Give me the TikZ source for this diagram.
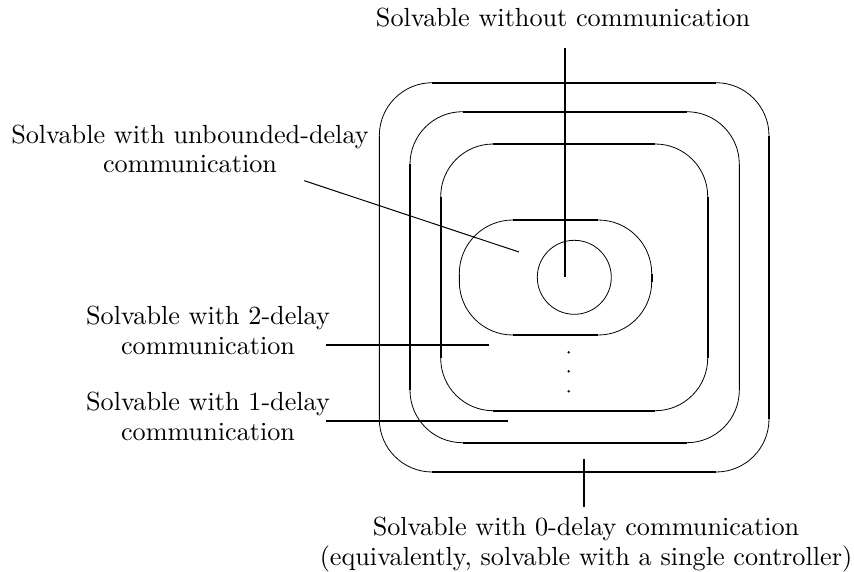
\documentclass[tikz,border=0pt]{standalone}
\usepackage{fontspec}
\setmainfont{lmroman10-regular.otf}
\begin{document}
\begin{tikzpicture}[x=1pt,y=-1pt,
  straight/.style={line width=1.6pt},
  curve/.style={line width=0.8pt},
  leader/.style={line width=1.6pt},
  slant/.style={line width=1pt},
  label/.style={font=\fontsize{26.2}{29.5}\selectfont, inner sep=0pt, align=center, anchor=base},
]
% rounded region: thin corner arcs, heavier straight sides
\newcommand\regionbox[5]{%
  \draw[curve, rounded corners=#5pt] (#1,#2) rectangle (#3,#4);
  \draw[straight] ({#1+#5},#2) -- ({#3-#5},#2);
  \draw[straight] ({#1+#5},#4) -- ({#3-#5},#4);
  \draw[straight] (#1,{#2+#5}) -- (#1,{#4-#5});
  \draw[straight] (#3,{#2+#5}) -- (#3,{#4-#5});
}
\useasboundingbox (0,0) rectangle (854,571);

% nested solvability regions
\regionbox{379.3}{82.7}{769}{472}{53}
\regionbox{410}{111.7}{739.3}{442.7}{52.5}
\regionbox{440.7}{144}{707.7}{410.7}{52.5}
\regionbox{459.3}{220}{651.7}{335}{53.5}
\draw[curve] (574.3,277.3) circle[radius=37];

% vertical ellipsis between the inner regions
\foreach \yy in {352.3,371.3,391.3} \fill (568.7,\yy) circle[radius=1.3];

% labels (base anchor sits on the last line)
\node[label] (none) at (563,26.7) {Solvable without communication};
\node[label] (unb) at (190,172.7) {Solvable with unbounded-delay\\communication};
\node[label] (two) at (208,354) {Solvable with 2-delay\\communication};
\node[label] (one) at (208,440) {Solvable with 1-delay\\communication};
\node[label] (zero) at (586,565) {Solvable with 0-delay communication\\(equivalently, solvable with a single controller)};

% leader end points
\coordinate (none-a) at (565,47.7);
\coordinate (none-b) at (565,277.3);
\coordinate (unb-a) at (304.3,180.7);
\coordinate (unb-b) at (519,252);
\coordinate (two-a) at (326,345);
\coordinate (two-b) at (489,345);
\coordinate (one-a) at (326,420.7);
\coordinate (one-b) at (507.7,420.7);
\coordinate (zero-a) at (584,506.7);
\coordinate (zero-b) at (584,459.3);

\draw[leader] (none-a) -- (none-b);
\draw[slant] (unb-a) -- (unb-b);
\draw[leader] (two-a) -- (two-b);
\draw[leader] (one-a) -- (one-b);
\draw[leader] (zero-a) -- (zero-b);
\end{tikzpicture}
\end{document}
